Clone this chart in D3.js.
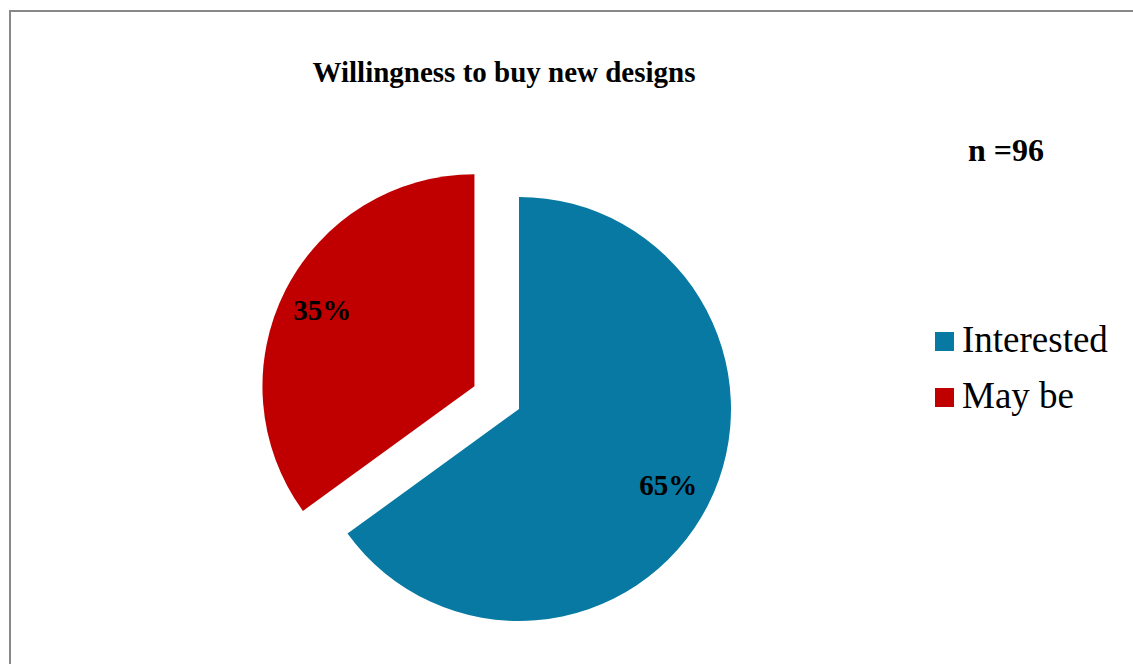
<!DOCTYPE html>
<html>
<head>
<meta charset="utf-8">
<script src="https://cdn.jsdelivr.net/npm/d3@7"></script>
<style>
	body { margin: 0; background: #fff; }
	svg { display: block; font-family: "Liberation Serif", "Times New Roman", serif; }
</style>
</head>
<body>
<svg id="svg" width="1133" height="664"></svg>
<script>
const categories = ['Interested', 'May be'];
const shares = [65, 35];
const colors = ['#0779a3', '#c00000'];
const explode = [0, 50]; // pulled-out slice offset

const svg = d3.select('#svg');

// chart frame (runs off the right and bottom edges)
svg.append('rect')
	.attr('x', 10).attr('y', 11)
	.attr('width', 1200).attr('height', 700)
	.attr('fill', 'none')
	.attr('stroke', '#888')
	.attr('stroke-width', 2);

svg.append('text')
	.attr('x', 504).attr('y', 82)
	.attr('text-anchor', 'middle')
	.style('font-size', '29px')
	.style('font-weight', 'bold')
	.text('Willingness to buy new designs');

svg.append('text')
	.attr('x', 1006).attr('y', 161)
	.attr('text-anchor', 'middle')
	.style('font-size', '32px')
	.style('font-weight', 'bold')
	.text('n =96');

const cx = 519, cy = 409, r = 212;

const pie = d3.pie().sort(null).value(d => d);
const arcs = pie(shares);
const arc = d3.arc().innerRadius(0).outerRadius(r);
const labelArc = d3.arc().innerRadius(r * 0.79).outerRadius(r * 0.79);

const g = svg.append('g').attr('transform', `translate(${cx},${cy})`);

const slices = g.selectAll('g.slice')
	.data(arcs)
	.enter().append('g')
	.attr('class', 'slice')
	.attr('transform', (d, i) => {
		const a = (d.startAngle + d.endAngle) / 2;
		return `translate(${Math.sin(a) * explode[i]},${-Math.cos(a) * explode[i]})`;
	});

slices.append('path')
	.attr('d', arc)
	.attr('fill', (d, i) => colors[i]);

slices.append('text')
	.attr('transform', (d, i) => {
		const [x, y] = labelArc.centroid(d);
		return `translate(${x - (i ? 3 : 0)},${y})`;
	})
	.attr('text-anchor', 'middle')
	.attr('dy', '0.33em')
	.style('font-size', '29px')
	.style('font-weight', 'bold')
	.text(d => d.data + '%');

// legend
const legend = svg.append('g').attr('transform', 'translate(935,332)');
const items = legend.selectAll('g')
	.data(categories)
	.enter().append('g')
	.attr('transform', (d, i) => `translate(0,${i * 56})`);

items.append('rect')
	.attr('width', 19).attr('height', 19)
	.attr('fill', (d, i) => colors[i]);

items.append('text')
	.attr('x', 27).attr('y', 20)
	.style('font-size', '37px')
	.text(d => d);
</script>
</body>
</html>
